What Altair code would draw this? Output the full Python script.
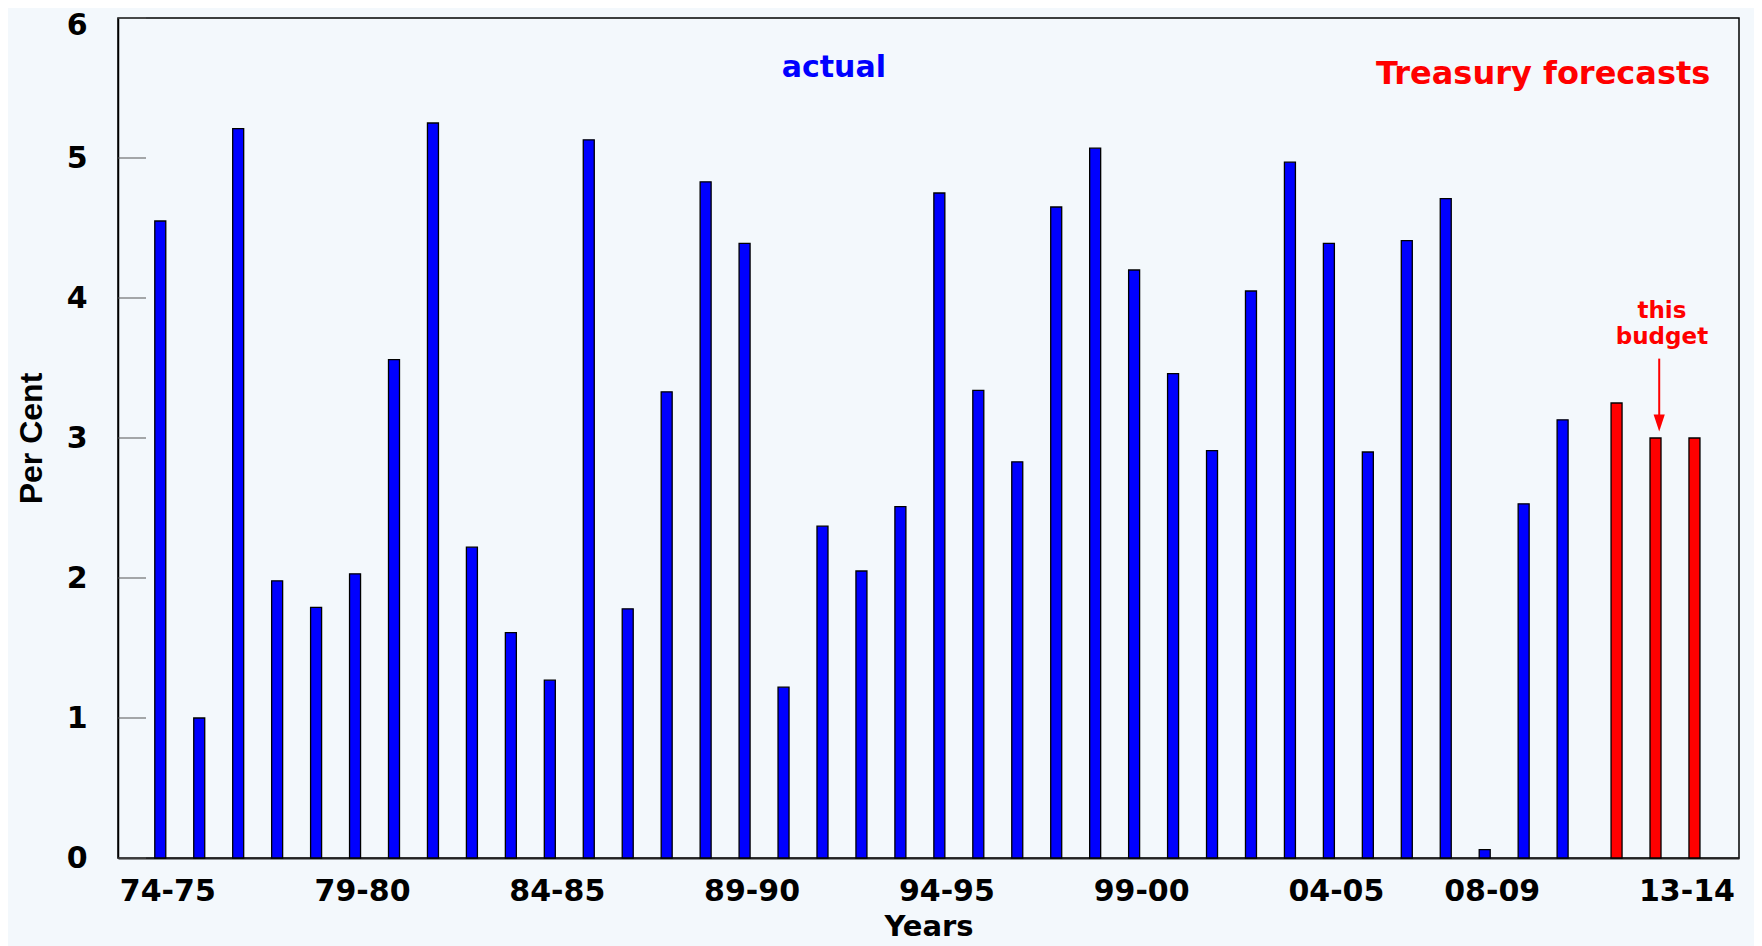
import json
import altair as alt
import pandas as pd

# ---- data ----
years = ["74-75", "75-76", "76-77", "77-78", "78-79", "79-80", "80-81", "81-82",
         "82-83", "83-84", "84-85", "85-86", "86-87", "87-88", "88-89", "89-90",
         "90-91", "91-92", "92-93", "93-94", "94-95", "95-96", "96-97", "97-98",
         "98-99", "99-00", "00-01", "01-02", "02-03", "03-04", "04-05", "05-06",
         "06-07", "07-08", "08-09", "09-10", "10-11", "11-12", "12-13", "13-14"]
actual_values = [4.55, 1.00, 5.21, 1.98, 1.79, 2.03, 3.56, 5.25, 2.22, 1.61,
                 1.27, 5.13, 1.78, 3.33, 4.83, 4.39, 1.22, 2.37, 2.05, 2.51,
                 4.75, 3.34, 2.83, 4.65, 5.07, 4.20, 3.46, 2.91, 4.05, 4.97,
                 4.39, 2.90, 4.41, 4.71, 0.06, 2.53, 3.13]
forecast_values = [3.25, 3.00, 3.00]
shown_labels = ["74-75", "79-80", "84-85", "89-90", "94-95", "99-00", "04-05", "08-09", "13-14"]
y_ticks = [0, 1, 2, 3, 4, 5, 6]

# annotation anchors (data units: x = year index, y = per cent)
ann_text = ["actual", "Treasury forecasts"]
ann_x = [17.29, 35.5]
ann_y = [5.577, 5.53]
ann_color = ["#0000ff", "#ff0000"]
ann_size = [30, 32]
budget_x = [38.55]
budget_y = [3.854]
arrow_x = [38.48]
arrow_top = [3.567]
arrow_head = [3.108]

n_act = len(actual_values)
df_act = pd.DataFrame({"idx": list(range(n_act)), "year": years[:n_act], "value": actual_values})
df_fc = pd.DataFrame({"idx": list(range(n_act, len(years))), "year": years[n_act:], "value": forecast_values})
df_ticks = pd.DataFrame({"v": y_ticks})
df_ann = pd.DataFrame({"x": ann_x, "y": ann_y, "t": ann_text, "c": ann_color, "s": ann_size})
df_budget = pd.DataFrame({"x": budget_x, "y": budget_y, "t": [["this", "budget"]]})
df_arrow = pd.DataFrame({"x": arrow_x, "y1": arrow_top, "y2": arrow_head})

FONT = "DejaVu Sans"
label_idx = [years.index(l) for l in shown_labels]

xscale = alt.Scale(domain=[-0.957, 40.40], nice=False, zero=False)
yscale = alt.Scale(domain=[0, 6], nice=False)

x_axis = alt.Axis(
    values=label_idx,
    labelExpr=f"{json.dumps(years)}[datum.value]",
    grid=False, ticks=False, domain=True, domainColor="#222", domainWidth=2,
    labelFont=FONT, labelFontWeight="bold", labelFontSize=30, labelColor="black",
    labelOffset=7, labelPadding=18, labelOverlap=False, labelFlush=False,
    title="Years", titleFont=FONT, titleFontWeight="bold", titleFontSize=29,
    titleColor="black", titlePadding=6,
)
y_axis = alt.Axis(
    values=y_ticks, grid=False, ticks=False, domain=True, domainColor="black", domainWidth=1.5,
    labelFont=FONT, labelFontWeight="bold", labelFontSize=30, labelColor="black",
    labelPadding=31,
    labelOffset={"condition": {"test": "datum.value == 6", "value": 7}, "value": 0},
    title="Per Cent", titleFont="Liberation Sans",
    titleFontWeight="bold", titleFontSize=32, titleColor="black", titlePadding=18,
)


def X(field):
    return alt.X(field, scale=xscale, axis=x_axis, title="Years")


def Y(field):
    return alt.Y(field, scale=yscale, axis=y_axis, title="Per Cent")


bars_act = alt.Chart(df_act).mark_bar(size=11, color="#0000ff", stroke="black", strokeWidth=1.3).encode(
    x=X("idx:Q"), y=Y("value:Q"),
)
bars_fc = alt.Chart(df_fc).mark_bar(size=11, color="#ff0000", stroke="black", strokeWidth=1.3, xOffset=15).encode(
    x=X("idx:Q"), y=Y("value:Q"),
)
ticks = alt.Chart(df_ticks).mark_rule(color="#555555", strokeWidth=1).encode(
    y=Y("v:Q"), x=alt.value(0), x2=alt.value(28),
)
ann = alt.Chart(df_ann).mark_text(font=FONT, fontWeight="bold", align="center", baseline="alphabetic").encode(
    x=X("x:Q"), y=Y("y:Q"),
    text="t:N",
    color=alt.Color("c:N", scale=None),
    size=alt.Size("s:Q", scale=None),
)
budget = alt.Chart(df_budget).mark_text(font=FONT, fontWeight="bold", fontSize=23, color="#ff0000",
                                        align="center", baseline="alphabetic", lineHeight=26).encode(
    x=X("x:Q"), y=Y("y:Q"), text="t",
)
arrow_line = alt.Chart(df_arrow).mark_rule(color="#ff0000", strokeWidth=2).encode(
    x=X("x:Q"), y=Y("y1:Q"), y2="y2:Q",
)
arrow_head_mark = alt.Chart(df_arrow).mark_point(
    shape="M-0.66,-1L0.66,-1L0,1Z", filled=True, color="#ff0000", size=289, opacity=1, strokeWidth=0
).encode(
    x=X("x:Q"), y=Y("y2:Q"),
)

chart = alt.layer(bars_act, bars_fc, ticks, ann, budget, arrow_line, arrow_head_mark).properties(
    width=1621, height=840,
    autosize=alt.AutoSizeParams(type="none"),
    padding={"left": 110, "top": 10, "right": 15, "bottom": 88},
    background="#f3f8fc",
).configure_view(stroke="black", strokeWidth=1.5)

chart.save("out.html", embed_options={"renderer": "svg", "actions": False})
